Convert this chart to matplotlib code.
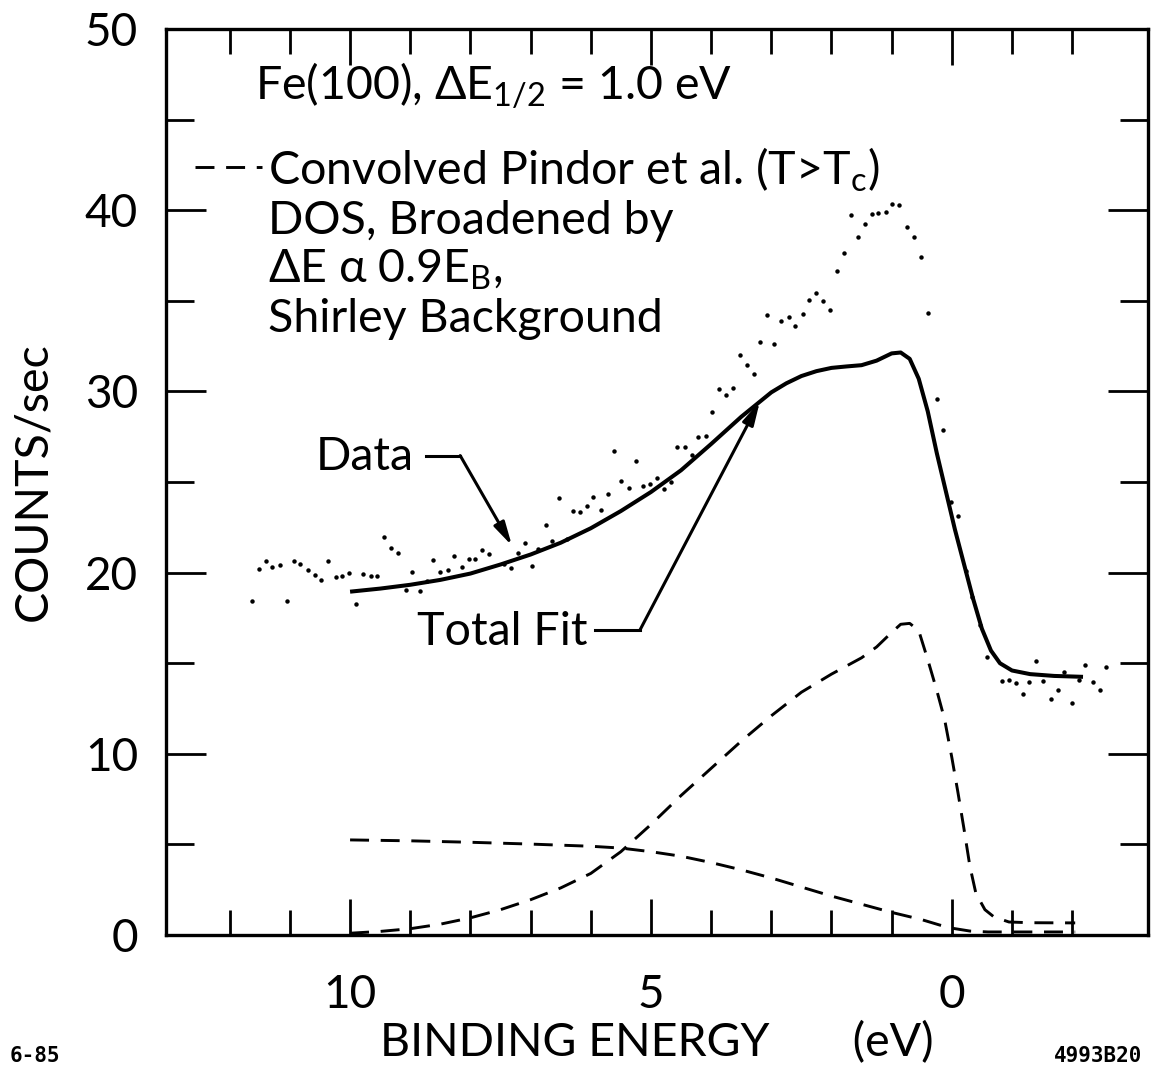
import matplotlib
matplotlib.use("Agg")
import matplotlib.pyplot as plt
from matplotlib.ticker import FixedLocator

# measured photoemission counts (binding energy in eV, counts/sec)
data_energy = [11.63, 11.52, 11.40, 11.29, 11.17, 11.05, 10.94, 10.83, 10.70, 10.59,
               10.48, 10.36, 10.24, 10.13, 10.01, 9.90, 9.78, 9.66, 9.55, 9.44,
               9.32, 9.20, 9.07, 8.97, 8.84, 8.73, 8.62, 8.50, 8.38, 8.27,
               8.14, 8.03, 7.92, 7.80, 7.69, 7.45, 7.33, 7.21, 7.10, 6.98,
               6.87, 6.75, 6.64, 6.52, 6.40, 6.29, 6.18, 6.07, 5.96, 5.83,
               5.72, 5.61, 5.49, 5.37, 5.25, 5.14, 5.02, 4.90, 4.79, 4.66,
               4.56, 4.44, 4.32, 4.21, 4.09, 3.98, 3.87, 3.75, 3.63, 3.52,
               3.41, 3.29, 3.18, 3.07, 2.95, 2.84, 2.71, 2.60, 2.48, 2.37,
               2.25, 2.14, 2.02, 1.91, 1.79, 1.68, 1.56, 1.45, 1.33, 1.22,
               1.10, 0.99, 0.87, 0.75, 0.63, 0.51, 0.39, 0.25, 0.14, 0.02,
               -0.10, -0.23, -0.34, -0.47, -0.59, -0.83, -0.95, -1.06, -1.18, -1.28,
               -1.40, -1.52, -1.64, -1.76, -1.87, -1.99, -2.11, -2.22, -2.34, -2.46,
               -2.56]
data_counts = [18.45, 20.20, 20.65, 20.29, 20.40, 18.44, 20.62, 20.48, 20.13, 19.89,
               19.60, 20.66, 19.78, 19.82, 20.00, 18.25, 19.93, 19.80, 19.82, 21.95,
               21.36, 21.09, 19.06, 20.04, 18.98, 19.56, 20.72, 20.06, 20.13, 20.92,
               20.31, 20.73, 20.75, 21.23, 21.03, 20.50, 20.28, 21.09, 21.64, 20.35,
               21.31, 22.64, 21.74, 24.13, 21.87, 23.38, 23.37, 23.70, 24.18, 23.43,
               24.35, 26.69, 25.04, 24.65, 26.18, 24.80, 24.88, 25.22, 24.59, 24.98,
               26.94, 26.91, 26.48, 27.50, 27.55, 28.86, 30.13, 29.83, 30.20, 31.99,
               31.45, 30.96, 32.71, 34.20, 32.60, 33.91, 34.13, 33.59, 34.29, 35.02,
               35.45, 35.01, 34.49, 36.65, 37.64, 39.72, 38.52, 39.24, 39.82, 39.83,
               39.89, 40.37, 40.28, 39.08, 38.55, 37.40, 34.34, 29.56, 27.90, 23.88,
               23.11, 20.11, 18.67, 17.13, 15.34, 14.03, 14.09, 13.91, 13.30, 13.98,
               15.14, 14.02, 13.00, 13.50, 14.49, 12.82, 14.08, 14.88, 13.98, 13.52,
               14.77]

# total fit
fit_energy = [10.0, 9.5, 9.0, 8.5, 8.0, 7.5, 7.0, 6.5, 6.0, 5.5,
              5.0, 4.5, 4.0, 3.5, 3.0, 2.75, 2.5, 2.25, 2.0, 1.75,
              1.5, 1.25, 1.0, 0.85, 0.7, 0.55, 0.4, 0.25, 0.1, -0.05,
              -0.2, -0.35, -0.5, -0.65, -0.8, -1.0, -1.3, -1.7, -2.18]
fit_counts = [18.95, 19.12, 19.33, 19.60, 19.95, 20.45, 21.00, 21.65, 22.45, 23.40,
              24.45, 25.65, 27.10, 28.60, 29.95, 30.45, 30.85, 31.12, 31.30, 31.38,
              31.45, 31.70, 32.10, 32.15, 31.80, 30.70, 28.90, 26.60, 24.50, 22.40,
              20.50, 18.60, 16.90, 15.70, 15.00, 14.60, 14.40, 14.30, 14.25]

# convolved Pindor et al. DOS
dos_energy = [10.0, 9.5, 9.0, 8.5, 8.0, 7.5, 7.0, 6.5, 6.0, 5.5,
              5.0, 4.5, 4.0, 3.5, 3.0, 2.5, 2.0, 1.75, 1.5, 1.25,
              1.0, 0.85, 0.7, 0.55, 0.4, 0.25, 0.12, 0.0, -0.1, -0.2,
              -0.3, -0.4, -0.55, -0.7, -0.95, -1.3, -2.05]
dos_counts = [0.10, 0.20, 0.35, 0.60, 0.95, 1.40, 1.95, 2.60, 3.40, 4.60,
              6.10, 7.70, 9.20, 10.70, 12.10, 13.40, 14.40, 14.85, 15.30, 15.90,
              16.70, 17.15, 17.20, 16.80, 15.20, 13.50, 11.90, 9.80, 7.90, 5.90,
              3.80, 2.30, 1.40, 1.00, 0.72, 0.68, 0.67]

# Shirley background
bg_energy = [10.0, 9.0, 8.0, 7.0, 6.0, 5.5, 5.0, 4.5, 4.0, 3.5,
             3.0, 2.5, 2.0, 1.5, 1.0, 0.5, 0.2, 0.0, -0.3, -0.6, -2.05]
bg_counts = [5.25, 5.20, 5.12, 5.02, 4.90, 4.80, 4.60, 4.35, 4.00, 3.60,
             3.15, 2.65, 2.15, 1.70, 1.25, 0.85, 0.55, 0.38, 0.22, 0.17, 0.17]

x_major = [10, 5, 0]
x_minor = list(range(-2, 13))
y_major = [0, 10, 20, 30, 40, 50]
y_minor = [5, 15, 25, 35, 45]

plt.rcParams['font.family'] = ['Lato', 'DejaVu Sans']
plt.rcParams['mathtext.fontset'] = 'custom'
plt.rcParams['mathtext.rm'] = 'Lato'
plt.rcParams['mathtext.it'] = 'Lato'

fig = plt.figure(figsize=(11.54, 10.76), dpi=100)
ax = fig.add_axes([0.1438, 0.131, 0.851, 0.842])

dash = (0, (6.5, 4))
ax.plot(data_energy, data_counts, 'o', color='black', markersize=3.2, markeredgewidth=0)
ax.plot(fit_energy, fit_counts, color='black', lw=2.9, solid_capstyle='butt')
ax.plot(dos_energy, dos_counts, color='black', lw=2.1, linestyle=dash)
ax.plot(bg_energy, bg_counts, color='black', lw=2.1, linestyle=dash)

ax.set_xlim(13.06, -3.26)
ax.set_ylim(0, 50)

ax.xaxis.set_major_locator(FixedLocator(x_major))
ax.xaxis.set_minor_locator(FixedLocator(x_minor))
ax.yaxis.set_major_locator(FixedLocator(y_major))
ax.yaxis.set_minor_locator(FixedLocator(y_minor))
ax.set_xticklabels([str(v) for v in x_major])
ax.set_yticklabels([str(v) for v in y_major])

ax.tick_params(which='both', direction='in', top=True, right=True, width=2, labelsize=33)
ax.tick_params(axis='x', which='major', length=26, pad=28)
ax.tick_params(axis='x', which='minor', length=18)
ax.tick_params(axis='y', which='major', length=29, pad=20)
ax.tick_params(axis='y', which='minor', length=20)
for s in ax.spines.values():
    s.set_linewidth(2.4)

ax.set_ylabel("COUNTS/sec", fontsize=33.5, labelpad=22)
ax.set_xlabel("BINDING ENERGY       (eV)", fontsize=33.5, labelpad=4)

# annotation block
fs = 33.5
ax.text(11.58, 46.1, r"Fe(100), ΔE$_{1/2}$ = 1.0 eV", fontsize=fs, va='baseline')
ax.plot([12.57, 11.46], [42.4, 42.4], color='black', lw=2.1, linestyle=dash)
ax.text(11.36, 41.4, r"Convolved Pindor et al. (T>T$_\mathrm{c}$)", fontsize=fs, va='baseline')
ax.text(11.36, 38.7, "DOS, Broadened by", fontsize=fs, va='baseline')
ax.text(11.36, 36.0, r"ΔE α 0.9E$_\mathrm{B}$,", fontsize=fs, va='baseline')
ax.text(11.36, 33.3, "Shirley Background", fontsize=fs, va='baseline')

# arrows
arrow = dict(arrowstyle='-|>,head_length=1.4,head_width=0.35', color='black', lw=2.2,
             shrinkA=0, shrinkB=0)
ax.text(8.94, 26.4, "Data", fontsize=fs, ha='right', va='center')
ax.plot([8.74, 8.17], [26.46, 26.46], color='black', lw=2.2)
ax.annotate("", xy=(7.31, 21.49), xytext=(8.17, 26.46), arrowprops=arrow)
ax.text(6.06, 16.74, "Total Fit", fontsize=fs, ha='right', va='center')
ax.plot([5.93, 5.18], [16.85, 16.85], color='black', lw=2.2)
ax.annotate("", xy=(3.19, 29.45), xytext=(5.18, 16.85), arrowprops=arrow)

fig.text(0.008, 0.013, "6-85", fontsize=15, family='DejaVu Sans Mono', weight='bold')
fig.text(0.990, 0.013, "4993B20", fontsize=15, family='DejaVu Sans Mono', weight='bold', ha='right')

fig.savefig("out.png", dpi=100)
